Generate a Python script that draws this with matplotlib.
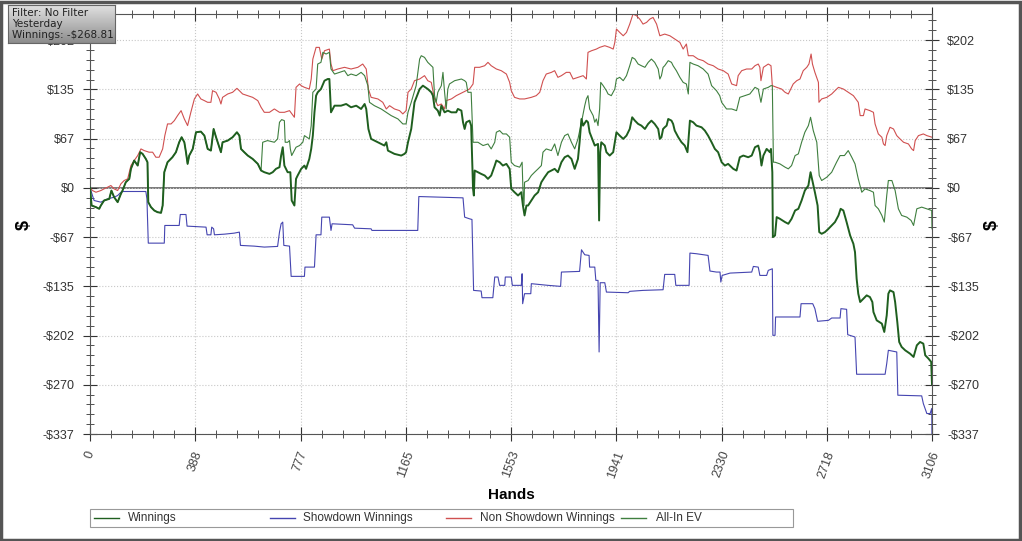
import matplotlib
matplotlib.use("Agg")
import matplotlib.pyplot as plt
from matplotlib.patches import Rectangle
from matplotlib.lines import Line2D
from matplotlib.ticker import FixedLocator, AutoMinorLocator
import numpy as np

plt.rcParams['font.family'] = ['Liberation Sans', 'DejaVu Sans']

# hands / dollars
win_hands = [0, 6, 22, 34, 40, 52, 71, 79, 89, 102, 114, 120, 132, 145, 151, 163, 176, 185, 194, 206,
             212, 215, 225, 237, 249, 262, 268, 274, 286, 304, 317, 329, 338, 348, 354, 360, 366, 379,
             391, 409, 422, 434, 446, 456, 465, 477, 483, 489, 508, 526, 542, 551, 557, 569, 582, 600,
             619, 631, 643, 662, 674, 686, 699, 705, 711, 717, 729, 739, 744, 754, 760,
             766, 779, 791, 797, 809, 816, 822, 828, 834, 840, 852, 865, 877, 883, 889, 902, 926, 945,
             963, 982, 1000, 1013, 1019, 1027, 1037, 1062, 1086, 1093, 1099, 1123, 1148, 1160, 1166,
             1173, 1185, 1197, 1216, 1228, 1246, 1259, 1265, 1271, 1283, 1290, 1296, 1308, 1320, 1333,
             1351, 1357, 1370, 1376, 1382, 1388, 1400, 1406, 1413, 1416, 1419, 1431, 1443, 1456, 1468,
             1480, 1493, 1499, 1511, 1523, 1536, 1548, 1554,
             1566, 1579, 1591, 1597, 1603, 1610, 1616, 1628, 1640, 1653, 1665, 1677, 1690, 1702, 1714,
             1726, 1739, 1751, 1763, 1776, 1788, 1800, 1806, 1813, 1819, 1831, 1837, 1843, 1850, 1862,
             1874, 1878, 1882, 1886, 1899, 1905, 1917, 1930, 1936, 1942, 1954, 1967, 1979, 1991, 2000,
             2010, 2022, 2034, 2047, 2059, 2071, 2083, 2096, 2102, 2108, 2114, 2120, 2127, 2133, 2145,
             2151, 2157, 2170, 2182, 2194, 2204, 2207, 2213, 2225, 2237, 2256, 2268, 2280, 2293, 2305,
             2317, 2330, 2342, 2354, 2373, 2385, 2397, 2410, 2428, 2441, 2453, 2465, 2471, 2477, 2484,
             2496, 2508, 2512, 2517, 2519, 2527, 2533, 2545, 2564, 2576, 2588, 2601, 2613, 2625, 2637,
             2650, 2658, 2666, 2674, 2684, 2690, 2699, 2711, 2724, 2736, 2748, 2761, 2769, 2779, 2791,
             2804, 2816, 2822, 2828, 2834, 2841, 2853, 2865, 2877, 2886, 2890, 2902, 2921, 2930, 2939,
             2945, 2951, 2964, 2970, 2978, 2985, 2994, 3007, 3025, 3038, 3050, 3062, 3074, 3081, 3093,
             3103, 3106]
winnings = [0, -24.2, -26.4, -28.7, -24.2, -17.3, -15.1, -3.7, -12.8, -19.6, -8.2, -3.7, 7.7, 12.3, 26.0,
            37.4, 30.5, 48.8, 46.5, 39.6, 35.1, -19.6, -26.4, -31.0, -33.3, -34.2, -24.2, 21.4, 35.1, 41.9,
            48.8, 62.4, 69.3, 62.4, 48.8, 32.8, 44.2, 53.3, 76.1, 77.0, 71.5, 53.3, 51.0, 80.6, 69.3, 55.6,
            48.8, 62.4, 64.7, 69.3, 76.1, 71.5, 53.3, 48.8, 44.2, 39.6, 32.8, 23.7, 21.4, 19.1, 21.4, 26.0,
            28.3, 44.2, 55.6, 30.5, 21.4, 21.4, -17.3, -24.2, 12.3,
            16.9, 26.0, 30.5, 26.0, 39.6, 53.3, 71.5, 103.4, 126.2, 130.8, 135.3, 146.7, 149.0, 149.0,
            103.4, 112.5, 112.5, 114.8, 110.3, 112.5, 108.0, 114.8, 108.0, 80.6, 67.0, 62.4, 57.9, 62.4,
            51.0, 46.5, 44.2, 46.5, 48.8, 62.4, 80.6, 117.1, 135.3, 139.9, 135.3, 130.8, 126.2, 110.3,
            105.7, 98.9, 112.5, 103.4, 105.7, 103.4, 103.4, 108.0, 105.7, 89.8, 80.6, 89.8, 92.0, 85.2,
            -1.4, -10.5, 23.7, 21.4, 19.1, 16.9, 12.3, 16.9, 30.5, 37.4, 35.1, 30.5, 32.8, 26.0, -1.4,
            -6.0, -10.5, -6.0, -24.2, -37.8, -24.2, -24.2, -17.3, -10.5, -6.0, 7.7, 14.6, 21.4, 23.7, 26.0,
            21.4, 35.1, 41.9, 44.2, 39.6, 26.0, 39.6, 62.4, 94.3, 85.2, 92.0, 89.8, 76.1, 69.3, 57.9,
            60.1, -44.7, 48.8, 62.4, 57.9, 48.8, 44.2, 48.8, 62.4, 76.1, 71.5, 67.0, 71.5, 80.6, 96.6,
            92.0, 87.5, 85.2, 80.6, 87.5, 92.0, 87.5, 80.6, 67.0, 69.3, 80.6, 82.9, 85.2, 94.3, 92.0,
            87.5, 78.4, 69.3, 62.4, 57.9, 48.8, 62.4, 92.0, 89.8, 85.2, 82.9, 78.4, 71.5, 62.4, 53.3,
            48.8, 35.1, 30.5, 32.8, 26.0, 23.7, 41.9, 44.2, 41.9, 44.2, 55.6, 57.9, 48.8, 30.5, 44.2,
            53.3, 48.8, 53.3, 21.4, -67.5, -65.2, -40.1, -42.4, -46.9, -49.2, -42.4, -31.0, -28.7, -17.3, -3.7,
            3.2, 21.4, 7.7, -6.0, -24.2, -60.6, -62.9, -60.6, -56.1, -51.5, -46.9, -37.8, -28.7, -31.0, -46.9,
            -65.2, -76.6, -88.0, -124.4, -144.9, -156.3, -151.7, -147.2, -149.5, -156.3, -170.0, -181.4, -185.9, -197.3, -174.5,
            -144.9, -140.4, -142.7, -156.3, -183.7, -211.0, -217.8, -222.4, -227.0, -231.5, -215.6, -211.0, -213.3, -229.2, -233.8,
            -238.3, -268.81]

sd_hands = [0, 15, 40, 65, 89, 102, 114, 120, 206, 210, 215, 274, 276, 329, 333, 354, 358, 428, 432, 446,
            449, 456, 459, 496, 532, 551, 555, 606, 643, 692, 699, 705, 711, 715, 736, 742, 766, 791, 793,
            828, 834, 852, 855, 883, 889, 893, 969, 976, 1037, 1040, 1209, 1213, 1376, 1382, 1400, 1409,
            1415, 1443, 1446, 1486, 1493, 1505, 1511, 1530, 1532, 1554, 1558, 1591, 1594, 1596, 1603, 1626,
            1628, 1690, 1736, 1739, 1806, 1813, 1825, 1841, 1843, 1862, 1866, 1874, 1878, 1882, 1899, 1905,
            1985, 1991, 2040, 2114, 2120, 2157, 2161, 2210, 2213, 2237, 2280, 2287, 2311, 2324, 2327, 2332,
            2361, 2441, 2447, 2465, 2471, 2496, 2502, 2517, 2519, 2527, 2529, 2619, 2623, 2666, 2674, 2684,
            2724, 2736, 2767, 2770, 2791, 2795, 2822, 2828, 2933, 2939, 2945, 2976, 2980, 3068, 3074, 3087,
            3099, 3105, 3106]
showdown = [0, -17.3, -19.6, -15.1, -12.8, -10.5, -6.0, -5.0, -5.0, -15.1, -75.7, -75.7, -51.5, -51.5,
            -36.5, -36.5, -52.4, -53.8, -64.3, -64.3, -53.8, -56.1, -64.3, -63.4, -62.0, -60.6, -78.8, -79.8,
            -81.1, -80.2, -60.6, -49.2, -46.9, -78.8, -79.8, -121.2, -121.2, -121.2, -108.5, -108.5, -64.3,
            -64.3, -40.1, -40.1, -58.3, -49.2, -50.6, -55.2, -56.1, -58.3, -58.3, -11.9, -13.7, -40.1, -42.4,
            -43.3, -140.4, -141.3, -150.4, -150.4, -122.1, -122.1, -133.5, -133.5, -122.1, -122.1, -133.5,
            -133.5, -117.6, -158.6, -144.9, -144.9, -131.2, -133.5, -134.9, -115.3, -114.4, -84.8, -91.6,
            -92.5, -108.5, -108.5, -126.7, -126.7, -224.7, -129.9, -129.9, -142.7, -143.6, -141.7, -140.4,
            -139.5, -118.5, -118.5, -133.5, -133.5, -89.3, -90.2, -92.5, -113.9, -115.3, -115.3, -129.0,
            -119.9, -116.7, -115.3, -107.6, -108.5, -119.9, -119.9, -113.0, -110.8, -201.9, -201.9, -176.8,
            -176.8, -158.6, -158.6, -165.4, -182.7, -181.4, -178.2, -178.2, -165.4, -166.3, -201.0, -204.2,
            -255.2, -255.2, -240.6, -222.4, -224.7, -283.9, -284.8, -295.3, -309.0, -309.0, -302.1, -337.0]

nsd_hands = [0, 9, 22, 40, 52, 65, 77, 89, 102, 114, 126, 139, 151, 163, 176, 188, 200, 218, 231, 243,
             255, 268, 276, 286, 299, 311, 323, 336, 348, 360, 372, 385, 397, 409, 422, 434, 446, 452, 465,
             477, 483, 489, 508, 526, 542, 551, 563, 582, 600, 619, 631, 643, 662, 680, 699, 717, 736, 754,
             760, 773, 779, 791, 809, 816, 822, 834, 846, 855, 865, 883, 889, 896, 914, 939, 963, 988, 1006,
             1019, 1027, 1037, 1062, 1080, 1093, 1105, 1123, 1142, 1154, 1166, 1173, 1185, 1197, 1216, 1234,
             1246, 1259, 1271, 1283, 1296, 1308, 1314, 1333, 1351, 1376, 1388, 1400, 1413, 1419, 1437, 1456,
             1468, 1480, 1499, 1517, 1536, 1548, 1554, 1566, 1585, 1603, 1628, 1646, 1659, 1671, 1683, 1702,
             1714, 1726, 1739, 1757, 1770, 1782, 1800, 1819, 1831, 1837, 1850, 1868, 1880, 1899, 1917, 1930,
             1936, 1942, 1954, 1967, 1979, 1991, 2003, 2016, 2028, 2040, 2053, 2065, 2077, 2090, 2102, 2120,
             2139, 2157, 2176, 2188, 2200, 2207, 2225, 2243, 2262, 2280, 2299, 2317, 2336, 2354, 2367, 2385,
             2391, 2404, 2422, 2441, 2453, 2465, 2471, 2475, 2484, 2502, 2512, 2517, 2533, 2551, 2564, 2576,
             2582, 2594, 2607, 2619, 2631, 2644, 2652, 2660, 2665, 2674, 2687, 2689, 2699, 2718, 2736, 2748,
             2761, 2779, 2797, 2816, 2834, 2841, 2853, 2859, 2877, 2890, 2896, 2908, 2921, 2927, 2933, 2939,
             2951, 2964, 2976, 2988, 3001, 3019, 3031, 3038, 3044, 3056, 3074, 3087, 3106]
non_showdown = [0, -3.7, -6.0, -3.7, -1.4, 0.9, 3.2, -1.4, -3.7, 5.5, 10.0, 12.3, 30.5, 37.4, 44.2, 53.3,
                51.0, 48.8, 48.8, 41.9, 41.9, 53.3, 71.5, 87.5, 87.5, 92.0, 98.9, 105.7, 94.3, 85.2, 103.4,
                121.7, 128.5, 121.7, 119.4, 117.1, 117.1, 133.0, 130.8, 121.7, 114.8, 123.9, 128.5, 130.8,
                136.2, 133.0, 128.5, 126.2, 123.9, 119.4, 110.3, 103.4, 103.4, 108.0, 103.4, 103.4, 105.7,
                96.6, 137.6, 142.2, 139.9, 137.6, 135.3, 149.0, 176.3, 192.3, 192.3, 176.3, 187.7, 190.0,
                169.5, 160.4, 162.7, 165.0, 162.7, 165.0, 169.5, 162.7, 135.3, 123.9, 121.7, 117.1, 108.0,
                112.5, 108.0, 105.7, 101.2, 105.7, 130.8, 135.3, 146.7, 149.0, 153.6, 146.7, 144.4, 121.7,
                112.5, 114.8, 108.0, 119.4, 121.7, 126.2, 130.8, 133.0, 135.3, 142.2, 165.0, 165.0, 167.2,
                171.8, 167.2, 162.7, 160.4, 155.8, 144.4, 133.0, 123.9, 121.7, 121.7, 123.9, 126.2, 130.8,
                146.7, 155.8, 158.1, 160.4, 151.3, 153.6, 158.1, 158.1, 149.0, 151.3, 153.6, 149.0, 185.5,
                187.7, 190.0, 192.3, 194.6, 192.3, 190.0, 199.1, 217.4, 212.8, 208.2, 212.8, 224.2, 237.9,
                235.6, 231.0, 224.2, 226.5, 231.0, 233.3, 224.2, 208.2, 210.5, 208.2, 203.7, 199.1, 190.0,
                196.9, 180.9, 180.9, 176.3, 174.1, 169.5, 167.2, 162.7, 160.4, 155.8, 142.2, 139.9, 153.6,
                160.4, 162.7, 162.7, 167.2, 169.5, 165.0, 146.7, 165.0, 169.5, 167.2, 139.9, 137.6, 135.3,
                130.8, 128.5, 133.0, 142.2, 146.7, 149.0, 160.4, 165.0, 169.5, 183.2, 169.5, 158.1, 144.4,
                117.1, 121.7, 123.9, 128.5, 133.0, 137.6, 135.3, 130.8, 126.2, 117.1, 98.9, 98.9, 108.0,
                105.7, 103.4, 87.5, 73.8, 69.3, 60.1, 57.9, 71.5, 82.9, 80.6, 71.5, 67.0, 62.4, 60.1, 53.3,
                51.0, 64.7, 71.5, 73.8, 71.5, 69.3]

ev_hands = [0, 6, 22, 34, 40, 52, 71, 79, 89, 102, 114, 120, 132, 145, 151, 163, 176, 185, 194, 206, 212,
            215, 225, 237, 249, 262, 268, 274, 286, 304, 317, 329, 338, 348, 354, 360, 366, 379, 391, 409,
            422, 434, 446, 456, 465, 477, 483, 489, 508, 526, 542, 551, 557, 569, 582, 600, 619, 631, 637,
            655, 680, 692, 699, 707, 717, 720, 729, 736, 739, 744, 760, 773, 785, 791, 809, 816, 822, 834,
            840, 852, 859, 871, 883, 889, 902, 920, 939, 951, 963, 982, 1000, 1013, 1025, 1031, 1049, 1074,
            1093, 1111, 1136, 1154, 1166, 1173, 1185, 1203, 1216, 1222, 1234, 1246, 1265, 1271, 1277, 1283,
            1296, 1302, 1308, 1314, 1320, 1326, 1345, 1370, 1382, 1388, 1394, 1406, 1413, 1419, 1431, 1450,
            1468, 1480, 1493, 1499, 1511, 1523, 1536, 1548, 1554, 1566, 1585, 1594, 1597, 1601, 1603, 1616,
            1628, 1640, 1653, 1665, 1671, 1683, 1702, 1714, 1726, 1739, 1751, 1763, 1776, 1788, 1800, 1813,
            1825, 1831, 1837, 1843, 1856, 1862, 1868, 1874, 1880, 1884, 1893, 1905, 1911, 1923, 1936, 1942,
            1954, 1967, 1979, 1991, 2000, 2010, 2022, 2034, 2047, 2059, 2071, 2083, 2096, 2102, 2108, 2114,
            2120, 2133, 2145, 2151, 2163, 2176, 2188, 2200, 2207, 2213, 2225, 2243, 2262, 2280, 2293, 2311,
            2323, 2330, 2348, 2367, 2385, 2397, 2416, 2434, 2453, 2465, 2475, 2484, 2502, 2512, 2517, 2521,
            2527, 2545, 2564, 2576, 2588, 2601, 2613, 2625, 2637, 2650, 2658, 2668, 2681, 2690, 2699, 2718,
            2736, 2754, 2767, 2783, 2797, 2810, 2822, 2834, 2847, 2859, 2877, 2890, 2896, 2908, 2921, 2930,
            2939, 2945, 2958, 2970, 2982, 2994, 3013, 3029, 3038, 3050, 3068, 3087, 3105, 3106]
all_in_ev = [0, -24.2, -26.4, -28.7, -24.2, -17.3, -15.1, -3.7, -12.8, -19.6, -8.2, -3.7, 7.7, 12.3, 26.0,
             37.4, 30.5, 48.8, 46.5, 39.6, 35.1, -19.6, -26.4, -31.0, -33.3, -34.2, -24.2, 21.4, 35.1, 41.9,
             48.8, 62.4, 69.3, 62.4, 48.8, 32.8, 44.2, 53.3, 76.1, 77.0, 71.5, 53.3, 51.0, 80.6, 69.3, 55.6,
             48.8, 62.4, 64.7, 69.3, 76.1, 71.5, 53.3, 48.8, 44.2, 39.6, 32.8, 23.7, 62.4, 64.7, 62.4, 67.0,
             89.8, 93.4, 92.0, 62.4, 62.4, 64.7, 53.3, 44.2, 55.6, 57.9, 62.4, 71.5, 67.0, 85.2, 130.8, 135.3,
             169.5, 171.8, 185.5, 183.2, 185.5, 162.7, 155.8, 158.1, 160.4, 153.6, 155.8, 153.6, 158.1, 153.6,
             139.9, 117.1, 112.5, 108.0, 103.4, 98.9, 94.3, 87.5, 87.5, 103.4, 117.1, 139.9, 176.3, 180.9,
             178.6, 171.8, 165.0, 126.2, 117.1, 130.8, 139.9, 158.1, 130.8, 108.0, 135.3, 142.2, 146.7, 149.0,
             146.7, 144.4, 130.8, 130.8, 62.4, 62.4, 62.4, 57.9, 60.1, 53.3, 62.4, 76.1, 78.4, 73.8, 73.8,
             69.3, 35.1, 30.5, 28.3, 35.1, -1.4, -24.2, 7.7, 10.0, 16.9, 21.4, 26.0, 30.5, 48.8, 53.3, 51.0,
             60.1, 44.2, 62.4, 71.5, 73.8, 62.4, 53.3, 67.0, 89.8, 112.5, 121.7, 126.2, 108.0, 98.9, 89.8,
             94.3, 85.2, 108.0, 144.4, 139.9, 133.0, 128.5, 126.2, 135.3, 149.0, 151.3, 146.7, 153.6, 167.2,
             178.6, 176.3, 169.5, 167.2, 165.0, 171.8, 176.3, 171.8, 162.7, 149.0, 153.6, 165.0, 167.2, 174.1,
             171.8, 167.2, 160.4, 151.3, 144.4, 142.2, 128.5, 171.8, 169.5, 167.2, 162.7, 155.8, 139.9, 133.0,
             126.2, 117.1, 108.0, 108.0, 105.7, 123.9, 126.2, 128.5, 137.6, 135.3, 117.1, 135.3, 137.6, 139.9,
             139.9, 35.1, 35.1, 32.8, 28.3, 26.0, 30.5, 44.2, 46.5, 62.4, 76.1, 85.2, 96.6, 78.4, 62.4, 16.9,
             10.0, 14.6, 21.4, 35.1, 44.2, 44.2, 51.0, 41.9, 32.8, 12.3, -6.0, -1.4, -3.7, -6.0, -24.2, -28.7,
             -37.8, -46.9, -10.5, 10.0, 10.0, -3.7, -28.7, -37.8, -40.1, -44.7, -51.5, -28.7, -26.4, -28.7,
             -31.0, -56.1]

series_names = ['Winnings', 'Showdown Winnings', 'Non Showdown Winnings', 'All-In EV']
y_ticks = [-337.0, -269.6, -202.2, -134.8, -67.4, 0, 67.4, 134.8, 202.2]
y_labels = ['-$337', '-$270', '-$202', '-$135', '-$67', '$0', '$67', '$135', '$202']
x_ticks = [0, 388.25, 776.5, 1164.75, 1553, 1941.25, 2329.5, 2717.75, 3106]
x_labels = ['0', '388', '777', '1165', '1553', '1941', '2330', '2718', '3106']

W, H = 1022, 541
fig = plt.figure(figsize=(W / 100, H / 100), dpi=100)
ax = fig.add_axes([90 / W, 107 / H, 842 / W, 420 / H])

ax.axhline(0, color='#707070', lw=1.3, zorder=1)
l_ev, = ax.plot(ev_hands, all_in_ev, color='#3f7f3f', lw=0.8, zorder=3)
l_nsd, = ax.plot(nsd_hands, non_showdown, color='#d05050', lw=0.8, zorder=2)
l_sd, = ax.plot(sd_hands, showdown, color='#4545b0', lw=0.8, zorder=2)
l_win, = ax.plot(win_hands, winnings, color='#1f5f1f', lw=1.4, zorder=4)

ax.set_xlim(0, 3106)
ax.set_ylim(-337.0, 238)
ax.xaxis.set_major_locator(FixedLocator(x_ticks))
ax.xaxis.set_minor_locator(AutoMinorLocator(5))
ax.yaxis.set_major_locator(FixedLocator(y_ticks))
ax.yaxis.set_minor_locator(AutoMinorLocator(5))
ax.set_xticklabels(x_labels, rotation=70, fontsize=9, color='#444444')
ax.set_yticklabels(y_labels, fontsize=9, color='#333333')

ax.grid(True, which='major', linestyle=':', color='#c8c8c8', lw=0.8)
ax.tick_params(which='major', direction='inout', length=10, width=0.8, color='#333333',
               top=True, right=True, labelright=True, pad=6)
ax.tick_params(which='minor', direction='inout', length=6, width=0.6, color='#333333',
               top=True, right=True)
for s in ax.spines.values():
    s.set_color('#555555')
    s.set_linewidth(0.8)

ax.set_xlabel('Hands', fontsize=11, fontweight='bold', labelpad=6)
fig.text(24 / W, 1 - 225 / H, '$', rotation=90, fontsize=13, fontweight='bold',
         ha='center', va='center')
fig.text(992 / W, 1 - 225 / H, '$', rotation=90, fontsize=13, fontweight='bold',
         ha='center', va='center')

# legend row inside one box
fig.add_artist(Rectangle((90 / W, 1 - 527 / H), 703 / W, 18 / H, transform=fig.transFigure,
                         facecolor='white', edgecolor='#999999', lw=0.8))
leg_y = 1 - 518 / H
line_x = [94, 270, 446, 621]
text_x = [128, 303, 480, 656]
for ln, name, lx, tx in zip([l_win, l_sd, l_nsd, l_ev], series_names, line_x, text_x):
    fig.add_artist(Line2D([lx / W, (lx + 25) / W], [leg_y, leg_y], transform=fig.transFigure,
                          color=ln.get_color(), lw=1.0))
    fig.text(tx / W, leg_y, name, fontsize=8.5, color='#333333', va='center', ha='left')

# info box in top-left corner
grad = np.linspace(0.88, 0.55, 64).reshape(-1, 1)
box_ax = fig.add_axes([8 / W, 1 - 43 / H, 107 / W, 38 / H])
box_ax.imshow(grad, cmap='gray', vmin=0, vmax=1, aspect='auto', extent=[0, 1, 0, 1])
box_ax.set_xticks([])
box_ax.set_yticks([])
for s in box_ax.spines.values():
    s.set_color('#666666')
box_ax.text(0.04, 0.5, 'Filter: No Filter\nYesterday\nWinnings: -$268.81', fontsize=7.5,
            family='DejaVu Sans', color='#222222', va='center', ha='left', linespacing=1.1,
            transform=box_ax.transAxes)

fig.patches.append(Rectangle((0.001, 0.002), 0.997, 0.995, transform=fig.transFigure,
                             fill=False, edgecolor='#555555', lw=2.5))

fig.savefig('out.png', dpi=100)
